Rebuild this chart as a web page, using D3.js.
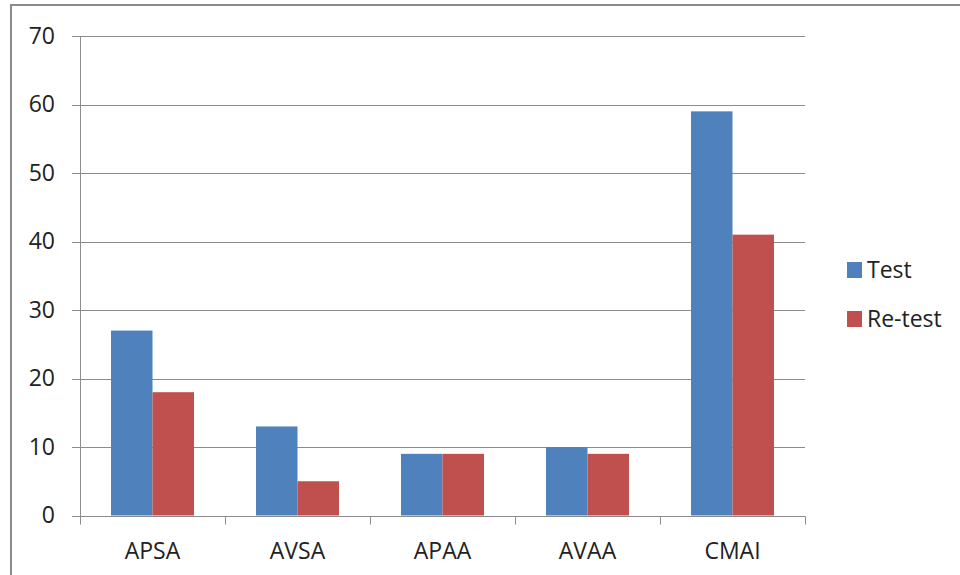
<!DOCTYPE html>
<html>
<head>
<meta charset="utf-8">
<script src="https://cdn.jsdelivr.net/npm/d3@7"></script>
<style>
  html, body { margin: 0; padding: 0; background: #fff; }
  svg { display: block; }
  text { font-family: "Open Sans", "Liberation Sans", sans-serif; fill: #222; }
</style>
</head>
<body>
<svg id="chart" width="960" height="575"></svg>
<script>
const categories = ["APSA", "AVSA", "APAA", "AVAA", "CMAI"];
const seriesNames = ["Test", "Re-test"];
const testValues = [27, 13, 9, 10, 59];
const retestValues = [18, 5, 9, 9, 41];
const yTicks = [0, 10, 20, 30, 40, 50, 60, 70];
const colors = ["#4F81BD", "#C0504D"];

const svg = d3.select("#chart");
const fontSize = 23;

// outer frame
svg.append("rect")
  .attr("x", 11).attr("y", 5)
  .attr("width", 960).attr("height", 580)
  .attr("fill", "none")
  .attr("stroke", "#8a8a8a")
  .attr("stroke-width", 2);

const plotLeft = 80, plotRight = 805, plotTop = 36, plotBottom = 515.5;

const x = d3.scaleBand().domain(categories).range([plotLeft, plotRight]).padding(0);
const y = d3.scaleLinear().domain([0, 70]).range([plotBottom, plotTop]);
// bar pair spans about 83px of each 145px category
const groupW = 83;
const xInner = d3.scaleBand().domain(seriesNames)
  .range([(x.bandwidth() - groupW) / 2, (x.bandwidth() + groupW) / 2]);

// gridlines
svg.append("g")
  .selectAll("line")
  .data(yTicks)
  .join("line")
  .attr("x1", plotLeft - 8).attr("x2", plotRight)
  .attr("y1", d => Math.round(y(d)) + 0.5).attr("y2", d => Math.round(y(d)) + 0.5)
  .attr("stroke", "#8c8c8c").attr("stroke-width", 1);

// y-axis line
svg.append("line")
  .attr("x1", plotLeft + 0.5).attr("x2", plotLeft + 0.5)
  .attr("y1", Math.round(y(70))).attr("y2", Math.round(y(0)) + 1)
  .attr("stroke", "#8c8c8c");

// y tick labels
svg.append("g")
  .selectAll("text")
  .data(yTicks)
  .join("text")
  .attr("x", 55)
  .attr("y", d => y(d) + 7.8)
  .attr("text-anchor", "end")
  .attr("font-size", fontSize)
  .text(d => d);

// bars
const data = categories.map((c, i) => ({ cat: c, vals: [testValues[i], retestValues[i]] }));
const groups = svg.append("g")
  .selectAll("g")
  .data(data)
  .join("g")
  .attr("transform", d => `translate(${x(d.cat)},0)`);

groups.selectAll("rect")
  .data(d => d.vals.map((v, j) => ({ name: seriesNames[j], v, j })))
  .join("rect")
  .attr("x", d => xInner(d.name))
  .attr("width", xInner.bandwidth())
  .attr("y", d => y(d.v))
  .attr("height", d => y(0) - y(d.v))
  .attr("fill", d => colors[d.j]);

// x-axis base line
const xAxisY = Math.round(y(0)) + 0.5;
svg.append("line")
  .attr("x1", plotLeft).attr("x2", plotRight + 0.5)
  .attr("y1", xAxisY).attr("y2", xAxisY)
  .attr("stroke", "#8c8c8c");

// category boundary ticks
const bounds = categories.map(c => x(c)).concat([plotRight]);
svg.append("g")
  .selectAll("line")
  .data(bounds)
  .join("line")
  .attr("x1", d => Math.round(d) + 0.5).attr("x2", d => Math.round(d) + 0.5)
  .attr("y1", xAxisY).attr("y2", xAxisY + 8)
  .attr("stroke", "#8c8c8c");

// category labels
svg.append("g")
  .selectAll("text")
  .data(categories)
  .join("text")
  .attr("x", d => x(d) + x.bandwidth() / 2)
  .attr("y", 558.5)
  .attr("text-anchor", "middle")
  .attr("font-size", fontSize)
  .text(d => d);

// legend
const legend = svg.append("g")
  .selectAll("g")
  .data(seriesNames)
  .join("g")
  .attr("transform", (d, i) => `translate(847,${262 + i * 49})`);
legend.append("rect")
  .attr("width", 15).attr("height", 16)
  .attr("fill", (d, i) => colors[i]);
legend.append("text")
  .attr("x", 20).attr("y", 16)
  .attr("font-size", fontSize)
  .text(d => d);
</script>
</body>
</html>
